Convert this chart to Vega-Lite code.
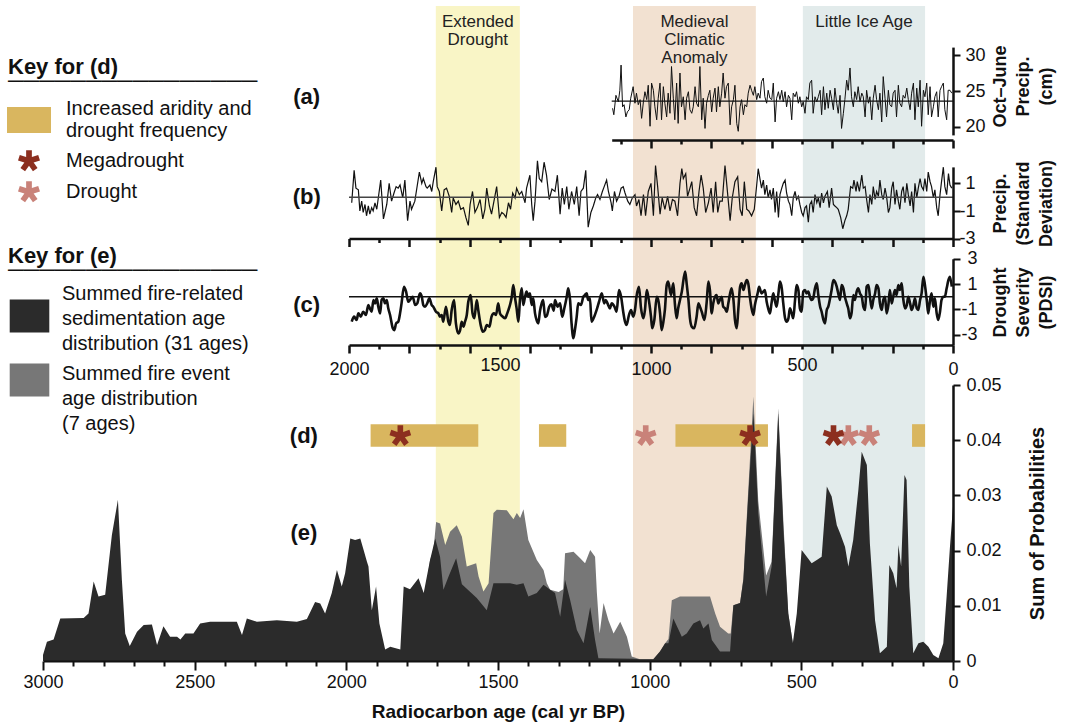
{
"$schema": "https://vega.github.io/schema/vega-lite/v6.json",
"width": 910,
"height": 655,
"autosize": {"type": "none"},
"padding": {"left": 43, "top": 6, "right": 115, "bottom": 63},
"background": "#ffffff",
"config": {
  "font": "Liberation Sans",
  "view": {"stroke": null},
  "axis": {"grid": false, "zindex": 2, "domainColor": "#111111", "tickColor": "#111111", "labelColor": "#111111", "titleColor": "#111111", "labelFlush": false, "labelOverlap": false},
  "legend": {"labelColor": "#111111", "titleColor": "#111111", "padding": 0, "labelLimit": 400, "titleLimit": 400, "symbolStrokeWidth": 0, "symbolOpacity": 1}
},
"datasets": {
  "bands": [
    {"name": "Extended Drought", "label": "Extended\nDrought", "start": 1705, "end": 1428},
    {"name": "Medieval Climatic Anomaly", "label": "Medieval\nClimatic\nAnomaly", "start": 1055, "end": 650},
    {"name": "Little Ice Age", "label": "Little Ice Age", "start": 495, "end": 92}
  ],
  "bars": [
    {"start": 1920, "end": 1565, "type": "Increased aridity and drought frequency"},
    {"start": 1365, "end": 1275, "type": "Increased aridity and drought frequency"},
    {"start": 915, "end": 610, "type": "Increased aridity and drought frequency"},
    {"start": 135, "end": 92, "type": "Increased aridity and drought frequency"}
  ],
  "stars": [
    {"t": 1013, "type": "Drought"},
    {"t": 345, "type": "Drought"},
    {"t": 276, "type": "Drought"},
    {"t": 1822, "type": "Megadrought"},
    {"t": 669, "type": "Megadrought"},
    {"t": 394, "type": "Megadrought"}
  ],
  "gray": [
    {"t":1730,"p":0.016},{"t":1724,"p":0.0183},{"t":1713,"p":0.02},{"t":1704,"p":0.0252},{"t":1691,"p":0.0249},{"t":1674,"p":0.021},{"t":1658,"p":0.0234},{"t":1636,"p":0.0246},{"t":1619,"p":0.0225},{"t":1603,"p":0.0171},{"t":1572,"p":0.0177},{"t":1564,"p":0.0153},{"t":1548,"p":0.0126},{"t":1531,"p":0.0141},{"t":1515,"p":0.0268},{"t":1504,"p":0.0274},{"t":1471,"p":0.0273},{"t":1449,"p":0.0257},{"t":1438,"p":0.0268},{"t":1427,"p":0.0259},{"t":1416,"p":0.0275},{"t":1400,"p":0.0219},{"t":1372,"p":0.0183},{"t":1350,"p":0.0165},{"t":1339,"p":0.0141},{"t":1328,"p":0.0129},{"t":1300,"p":0.0125},{"t":1285,"p":0.013},{"t":1279,"p":0.0195},{"t":1251,"p":0.0198},{"t":1229,"p":0.0186},{"t":1213,"p":0.0177},{"t":1196,"p":0.0201},{"t":1180,"p":0.0189},{"t":1174,"p":0.0123},{"t":1165,"p":0.005},{"t":1152,"p":0.0105},{"t":1136,"p":0.0074},{"t":1119,"p":0.005},{"t":1097,"p":0.0071},{"t":1075,"p":0.0044},{"t":1059,"p":0.0008},{"t":1032,"p":0.0003},{"t":988,"p":0.0003},{"t":966,"p":0.0017},{"t":949,"p":0.0032},{"t":938,"p":0.004},{"t":927,"p":0.011},{"t":900,"p":0.0117},{"t":867,"p":0.0117},{"t":834,"p":0.0117},{"t":801,"p":0.0117},{"t":784,"p":0.0086},{"t":768,"p":0.0062},{"t":741,"p":0.005},{"t":733,"p":0.005},{"t":724,"p":0.0101},{"t":702,"p":0.0105},{"t":691,"p":0.015},{"t":675,"p":0.031},{"t":658,"p":0.0479},{"t":642,"p":0.029},{"t":616,"p":0.0155},{"t":598,"p":0.018},{"t":576,"p":0.0458},{"t":559,"p":0.025},{"t":543,"p":0.0086},{"t":528,"p":0.0032},{"t":520,"p":0}
  ],
  "black": [
    {"t":3000,"p":0.0011},{"t":2987,"p":0.0035},{"t":2965,"p":0.0039},{"t":2943,"p":0.0077},{"t":2866,"p":0.0078},{"t":2850,"p":0.0086},{"t":2833,"p":0.0144},{"t":2817,"p":0.0117},{"t":2795,"p":0.012},{"t":2773,"p":0.0228},{"t":2753,"p":0.0292},{"t":2740,"p":0.0147},{"t":2729,"p":0.005},{"t":2714,"p":0.0027},{"t":2690,"p":0.0053},{"t":2668,"p":0.0065},{"t":2641,"p":0.0066},{"t":2624,"p":0.0029},{"t":2603,"p":0.0063},{"t":2581,"p":0.0044},{"t":2558,"p":0.0044},{"t":2547,"p":0.0039},{"t":2531,"p":0.005},{"t":2504,"p":0.005},{"t":2482,"p":0.0068},{"t":2449,"p":0.0071},{"t":2361,"p":0.0071},{"t":2344,"p":0.0047},{"t":2328,"p":0.0077},{"t":2295,"p":0.0071},{"t":2229,"p":0.0074},{"t":2163,"p":0.0071},{"t":2130,"p":0.0076},{"t":2103,"p":0.0107},{"t":2086,"p":0.0104},{"t":2070,"p":0.0086},{"t":2048,"p":0.0123},{"t":2031,"p":0.0165},{"t":2015,"p":0.0135},{"t":2004,"p":0.0159},{"t":1987,"p":0.0222},{"t":1971,"p":0.0219},{"t":1954,"p":0.0222},{"t":1943,"p":0.0201},{"t":1932,"p":0.018},{"t":1927,"p":0.0171},{"t":1916,"p":0.0092},{"t":1902,"p":0.0135},{"t":1891,"p":0.0068},{"t":1872,"p":0.0021},{"t":1855,"p":0.0026},{"t":1822,"p":0.0021},{"t":1811,"p":0.0135},{"t":1790,"p":0.013},{"t":1762,"p":0.015},{"t":1745,"p":0.0123},{"t":1724,"p":0.0183},{"t":1707,"p":0.0222},{"t":1691,"p":0.0189},{"t":1680,"p":0.0129},{"t":1663,"p":0.0153},{"t":1638,"p":0.0186},{"t":1619,"p":0.0139},{"t":1570,"p":0.0114},{"t":1537,"p":0.0092},{"t":1515,"p":0.0141},{"t":1460,"p":0.0141},{"t":1438,"p":0.0138},{"t":1416,"p":0.0141},{"t":1400,"p":0.0117},{"t":1372,"p":0.0123},{"t":1350,"p":0.0138},{"t":1328,"p":0.0129},{"t":1312,"p":0.0123},{"t":1295,"p":0.008},{"t":1279,"p":0.0147},{"t":1262,"p":0.011},{"t":1240,"p":0.0056},{"t":1218,"p":0.0032},{"t":1196,"p":0.0098},{"t":1180,"p":0.0038},{"t":1169,"p":0.0005},{"t":1054,"p":0.0004},{"t":1032,"p":0.0003},{"t":988,"p":0.0003},{"t":966,"p":0.0017},{"t":949,"p":0.0032},{"t":938,"p":0.0032},{"t":922,"p":0.0077},{"t":894,"p":0.0044},{"t":878,"p":0.005},{"t":856,"p":0.0068},{"t":834,"p":0.0074},{"t":823,"p":0.0059},{"t":806,"p":0.0068},{"t":795,"p":0.0038},{"t":768,"p":0.0017},{"t":735,"p":0.0017},{"t":724,"p":0.0101},{"t":702,"p":0.0105},{"t":691,"p":0.0147},{"t":675,"p":0.0298},{"t":658,"p":0.0449},{"t":642,"p":0.0268},{"t":616,"p":0.0117},{"t":598,"p":0.0171},{"t":576,"p":0.0449},{"t":559,"p":0.0237},{"t":543,"p":0.0086},{"t":528,"p":0.0032},{"t":515,"p":0.0086},{"t":499,"p":0.0201},{"t":482,"p":0.0189},{"t":466,"p":0.0177},{"t":449,"p":0.0183},{"t":433,"p":0.0189},{"t":416,"p":0.0316},{"t":400,"p":0.0298},{"t":383,"p":0.0246},{"t":372,"p":0.0231},{"t":356,"p":0.0207},{"t":345,"p":0.0171},{"t":329,"p":0.0219},{"t":312,"p":0.031},{"t":301,"p":0.0379},{"t":284,"p":0.0355},{"t":274,"p":0.0213},{"t":257,"p":0.0074},{"t":241,"p":0.0014},{"t":218,"p":0.0026},{"t":210,"p":0.0174},{"t":197,"p":0.0159},{"t":186,"p":0.0132},{"t":180,"p":0.021},{"t":171,"p":0.0171},{"t":160,"p":0.0337},{"t":153,"p":0.0328},{"t":144,"p":0.0135},{"t":131,"p":0.0014},{"t":114,"p":0.0032},{"t":98,"p":0.0035},{"t":81,"p":0.0026},{"t":65,"p":0.0011},{"t":48,"p":0.0005},{"t":32,"p":0.0032},{"t":21,"p":0.0117},{"t":10,"p":0.0207},{"t":0,"p":0.028}
  ],
  "a": [
    {"t":1127,"v":22.6},{"t":1123,"v":21.7},{"t":1116,"v":24.4},{"t":1108,"v":23.5},{"t":1103,"v":25.1},{"t":1099,"v":28.6},{"t":1094,"v":22.8},{"t":1089,"v":23.1},{"t":1083,"v":21.4},{"t":1078,"v":22.1},{"t":1072,"v":22.4},{"t":1067,"v":24.0},{"t":1059,"v":25.6},{"t":1053,"v":23.3},{"t":1048,"v":24.7},{"t":1042,"v":23.1},{"t":1036,"v":23.8},{"t":1031,"v":21.2},{"t":1025,"v":23.5},{"t":1020,"v":24.9},{"t":1014,"v":23.8},{"t":1009,"v":25.8},{"t":1003,"v":20.1},{"t":998,"v":26.1},{"t":992,"v":25.1},{"t":987,"v":22.8},{"t":981,"v":21.0},{"t":976,"v":24.0},{"t":970,"v":26.1},{"t":965,"v":21.0},{"t":959,"v":25.6},{"t":954,"v":23.3},{"t":948,"v":21.4},{"t":943,"v":24.7},{"t":937,"v":21.9},{"t":932,"v":28.4},{"t":926,"v":24.0},{"t":921,"v":21.0},{"t":915,"v":26.1},{"t":910,"v":20.5},{"t":904,"v":27.5},{"t":899,"v":22.8},{"t":893,"v":24.2},{"t":887,"v":21.0},{"t":882,"v":24.0},{"t":876,"v":24.9},{"t":871,"v":22.4},{"t":865,"v":21.9},{"t":860,"v":22.8},{"t":854,"v":25.6},{"t":849,"v":23.3},{"t":843,"v":22.8},{"t":838,"v":28.4},{"t":832,"v":21.0},{"t":827,"v":24.0},{"t":821,"v":19.8},{"t":816,"v":23.3},{"t":810,"v":24.4},{"t":805,"v":25.1},{"t":799,"v":22.1},{"t":794,"v":24.0},{"t":788,"v":25.4},{"t":783,"v":22.1},{"t":777,"v":25.6},{"t":772,"v":22.8},{"t":766,"v":24.7},{"t":761,"v":27.5},{"t":755,"v":24.0},{"t":750,"v":25.6},{"t":744,"v":26.1},{"t":738,"v":20.3},{"t":733,"v":22.8},{"t":727,"v":23.8},{"t":722,"v":25.8},{"t":716,"v":20.5},{"t":711,"v":19.4},{"t":705,"v":22.8},{"t":700,"v":23.8},{"t":694,"v":21.7},{"t":689,"v":23.1},{"t":683,"v":22.8},{"t":678,"v":24.7},{"t":672,"v":25.8},{"t":667,"v":25.1},{"t":661,"v":24.4},{"t":656,"v":25.6},{"t":650,"v":23.8},{"t":645,"v":24.7},{"t":639,"v":24.0},{"t":634,"v":26.3},{"t":628,"v":26.8},{"t":623,"v":24.2},{"t":617,"v":23.3},{"t":612,"v":25.1},{"t":606,"v":24.0},{"t":600,"v":23.8},{"t":595,"v":26.1},{"t":589,"v":20.7},{"t":584,"v":24.0},{"t":578,"v":24.9},{"t":573,"v":23.8},{"t":567,"v":25.1},{"t":562,"v":23.5},{"t":556,"v":24.9},{"t":551,"v":22.8},{"t":545,"v":24.4},{"t":540,"v":24.0},{"t":534,"v":21.0},{"t":529,"v":24.7},{"t":523,"v":24.2},{"t":518,"v":24.9},{"t":512,"v":23.3},{"t":507,"v":24.2},{"t":501,"v":22.8},{"t":496,"v":23.5},{"t":490,"v":21.9},{"t":485,"v":24.2},{"t":479,"v":23.8},{"t":474,"v":26.1},{"t":468,"v":26.5},{"t":463,"v":21.9},{"t":457,"v":24.2},{"t":451,"v":23.5},{"t":446,"v":24.2},{"t":440,"v":25.1},{"t":435,"v":21.7},{"t":429,"v":25.6},{"t":424,"v":22.4},{"t":418,"v":24.7},{"t":413,"v":22.6},{"t":407,"v":25.1},{"t":402,"v":24.0},{"t":396,"v":22.4},{"t":391,"v":25.4},{"t":385,"v":23.3},{"t":380,"v":21.9},{"t":374,"v":24.4},{"t":369,"v":19.8},{"t":363,"v":21.9},{"t":358,"v":23.8},{"t":352,"v":26.5},{"t":347,"v":25.1},{"t":341,"v":28.2},{"t":336,"v":24.2},{"t":330,"v":22.8},{"t":325,"v":24.9},{"t":319,"v":23.8},{"t":314,"v":25.6},{"t":308,"v":23.5},{"t":302,"v":24.7},{"t":297,"v":24.2},{"t":291,"v":21.4},{"t":286,"v":25.1},{"t":280,"v":23.3},{"t":275,"v":24.2},{"t":269,"v":21.0},{"t":264,"v":24.0},{"t":258,"v":25.8},{"t":253,"v":23.8},{"t":247,"v":22.4},{"t":242,"v":24.7},{"t":236,"v":20.7},{"t":231,"v":27.0},{"t":225,"v":24.0},{"t":220,"v":21.4},{"t":214,"v":25.1},{"t":209,"v":23.1},{"t":203,"v":22.8},{"t":198,"v":24.7},{"t":192,"v":25.1},{"t":187,"v":21.4},{"t":181,"v":25.8},{"t":176,"v":23.3},{"t":170,"v":22.8},{"t":165,"v":24.4},{"t":159,"v":24.0},{"t":153,"v":25.4},{"t":148,"v":23.8},{"t":142,"v":22.4},{"t":137,"v":24.7},{"t":131,"v":26.1},{"t":126,"v":21.0},{"t":120,"v":25.4},{"t":115,"v":22.8},{"t":109,"v":26.5},{"t":104,"v":20.1},{"t":98,"v":25.1},{"t":93,"v":24.2},{"t":87,"v":26.1},{"t":82,"v":21.7},{"t":76,"v":25.6},{"t":71,"v":21.4},{"t":65,"v":22.8},{"t":60,"v":24.2},{"t":54,"v":24.9},{"t":49,"v":21.4},{"t":43,"v":25.1},{"t":38,"v":25.6},{"t":32,"v":26.1},{"t":27,"v":22.4},{"t":21,"v":21.0},{"t":16,"v":25.1},{"t":10,"v":25.1},{"t":4,"v":24.7}
  ],
  "b": [
    {"t":1991,"v":-0.4},{"t":1983,"v":1.95},{"t":1977,"v":0.66},{"t":1969,"v":0.54},{"t":1964,"v":-0.99},{"t":1958,"v":-0.28},{"t":1953,"v":-1.1},{"t":1947,"v":-0.52},{"t":1942,"v":-1.34},{"t":1936,"v":-0.63},{"t":1931,"v":-1.22},{"t":1925,"v":-0.75},{"t":1920,"v":-0.99},{"t":1914,"v":-0.4},{"t":1908,"v":-0.87},{"t":1903,"v":-0.05},{"t":1895,"v":1.24},{"t":1886,"v":-1.57},{"t":1875,"v":-0.52},{"t":1867,"v":1.01},{"t":1859,"v":-0.28},{"t":1851,"v":0.31},{"t":1844,"v":0.77},{"t":1837,"v":0.66},{"t":1831,"v":0.89},{"t":1822,"v":-0.05},{"t":1815,"v":1.24},{"t":1806,"v":-1.69},{"t":1798,"v":-0.28},{"t":1793,"v":-0.87},{"t":1782,"v":-0.28},{"t":1767,"v":1.83},{"t":1759,"v":1.01},{"t":1754,"v":1.36},{"t":1745,"v":0.77},{"t":1741,"v":0.66},{"t":1732,"v":0.89},{"t":1726,"v":0.42},{"t":1721,"v":1.13},{"t":1712,"v":2.18},{"t":1708,"v":0.77},{"t":1701,"v":0.42},{"t":1693,"v":-0.99},{"t":1685,"v":0.54},{"t":1677,"v":0.66},{"t":1668,"v":0.07},{"t":1660,"v":-1.1},{"t":1655,"v":-0.05},{"t":1646,"v":-0.52},{"t":1638,"v":-0.28},{"t":1630,"v":-0.87},{"t":1621,"v":-0.75},{"t":1613,"v":-1.46},{"t":1605,"v":-2.04},{"t":1599,"v":-0.52},{"t":1591,"v":0.42},{"t":1583,"v":-1.1},{"t":1575,"v":-0.75},{"t":1566,"v":-0.16},{"t":1557,"v":-1.57},{"t":1550,"v":-0.87},{"t":1544,"v":0.66},{"t":1535,"v":-0.63},{"t":1528,"v":-1.22},{"t":1520,"v":-0.28},{"t":1511,"v":0.77},{"t":1502,"v":-1.46},{"t":1494,"v":-1.1},{"t":1487,"v":-1.22},{"t":1480,"v":-1.46},{"t":1472,"v":-0.4},{"t":1465,"v":-0.87},{"t":1458,"v":0.31},{"t":1450,"v":-0.05},{"t":1445,"v":0.66},{"t":1436,"v":0.19},{"t":1428,"v":0.42},{"t":1417,"v":-0.4},{"t":1412,"v":0.66},{"t":1401,"v":1.6},{"t":1395,"v":-0.52},{"t":1390,"v":-1.69},{"t":1384,"v":-0.28},{"t":1376,"v":2.65},{"t":1370,"v":1.36},{"t":1362,"v":1.13},{"t":1354,"v":2.54},{"t":1346,"v":1.6},{"t":1337,"v":-0.16},{"t":1328,"v":0.6},{"t":1318,"v":0.42},{"t":1310,"v":1.6},{"t":1301,"v":-1.22},{"t":1294,"v":0.66},{"t":1287,"v":-0.52},{"t":1279,"v":0.77},{"t":1272,"v":-0.87},{"t":1263,"v":0.42},{"t":1254,"v":-0.52},{"t":1246,"v":0.77},{"t":1238,"v":-1.34},{"t":1232,"v":0.42},{"t":1224,"v":0.66},{"t":1216,"v":1.95},{"t":1208,"v":-2.16},{"t":1199,"v":-1.1},{"t":1191,"v":-0.63},{"t":1183,"v":-0.05},{"t":1177,"v":0.19},{"t":1169,"v":-0.16},{"t":1161,"v":0.42},{"t":1155,"v":0.77},{"t":1147,"v":1.24},{"t":1141,"v":0.42},{"t":1132,"v":-0.4},{"t":1128,"v":-0.99},{"t":1121,"v":0.42},{"t":1114,"v":-0.28},{"t":1106,"v":0.07},{"t":1099,"v":0.66},{"t":1092,"v":0.77},{"t":1086,"v":0.31},{"t":1077,"v":-0.28},{"t":1070,"v":-0.52},{"t":1062,"v":-0.05},{"t":1053,"v":0.19},{"t":1048,"v":-0.63},{"t":1040,"v":-0.16},{"t":1033,"v":-1.34},{"t":1025,"v":0.19},{"t":1018,"v":-1.34},{"t":1009,"v":0.42},{"t":1000,"v":1.01},{"t":992,"v":-1.34},{"t":985,"v":2.3},{"t":978,"v":0.77},{"t":970,"v":-1.22},{"t":963,"v":-0.05},{"t":954,"v":-0.87},{"t":945,"v":0.07},{"t":937,"v":-0.99},{"t":929,"v":-0.16},{"t":921,"v":-0.28},{"t":912,"v":-1.34},{"t":904,"v":1.01},{"t":898,"v":2.07},{"t":893,"v":1.36},{"t":885,"v":1.71},{"t":879,"v":0.07},{"t":871,"v":0.66},{"t":865,"v":1.13},{"t":857,"v":-0.75},{"t":849,"v":-1.34},{"t":841,"v":0.42},{"t":834,"v":1.6},{"t":827,"v":0.66},{"t":819,"v":-1.1},{"t":810,"v":-0.4},{"t":801,"v":0.66},{"t":794,"v":-1.1},{"t":786,"v":1.13},{"t":779,"v":-1.1},{"t":772,"v":-0.28},{"t":764,"v":-0.28},{"t":755,"v":2.3},{"t":746,"v":0.19},{"t":738,"v":-1.69},{"t":731,"v":-0.05},{"t":722,"v":1.13},{"t":713,"v":1.48},{"t":705,"v":-0.87},{"t":698,"v":-1.34},{"t":691,"v":1.13},{"t":683,"v":-0.87},{"t":676,"v":-0.99},{"t":667,"v":-1.34},{"t":658,"v":-0.87},{"t":650,"v":0.89},{"t":645,"v":2.07},{"t":634,"v":0.66},{"t":628,"v":1.24},{"t":623,"v":0.19},{"t":617,"v":0.89},{"t":612,"v":-0.05},{"t":606,"v":0.54},{"t":601,"v":-0.16},{"t":595,"v":0.66},{"t":589,"v":-1.1},{"t":584,"v":0.42},{"t":578,"v":-1.46},{"t":573,"v":0.19},{"t":567,"v":0.66},{"t":562,"v":1.01},{"t":556,"v":1.24},{"t":551,"v":0.31},{"t":545,"v":-0.28},{"t":540,"v":-0.52},{"t":534,"v":-1.34},{"t":529,"v":-0.05},{"t":523,"v":0.42},{"t":518,"v":-0.16},{"t":512,"v":0.07},{"t":507,"v":-0.52},{"t":501,"v":-1.1},{"t":496,"v":-1.34},{"t":490,"v":-0.75},{"t":485,"v":-0.63},{"t":479,"v":-1.81},{"t":474,"v":-0.52},{"t":468,"v":-0.28},{"t":463,"v":-1.1},{"t":457,"v":0.19},{"t":451,"v":-0.4},{"t":446,"v":-0.05},{"t":440,"v":-0.75},{"t":435,"v":0.31},{"t":429,"v":-0.4},{"t":424,"v":0.07},{"t":416,"v":0.42},{"t":410,"v":-0.75},{"t":402,"v":0.66},{"t":396,"v":-0.52},{"t":391,"v":-0.63},{"t":385,"v":-0.75},{"t":380,"v":-0.87},{"t":372,"v":-1.46},{"t":365,"v":-2.28},{"t":358,"v":-1.69},{"t":352,"v":-1.34},{"t":347,"v":-0.87},{"t":339,"v":0.77},{"t":332,"v":0.66},{"t":328,"v":1.24},{"t":321,"v":0.42},{"t":317,"v":1.13},{"t":310,"v":0.42},{"t":302,"v":1.6},{"t":297,"v":0.66},{"t":291,"v":0.77},{"t":286,"v":-0.16},{"t":280,"v":-1.1},{"t":275,"v":0.19},{"t":269,"v":-0.52},{"t":264,"v":0.77},{"t":258,"v":-0.16},{"t":253,"v":0.42},{"t":247,"v":0.07},{"t":242,"v":1.24},{"t":236,"v":0.19},{"t":231,"v":-0.16},{"t":225,"v":0.66},{"t":220,"v":0.07},{"t":214,"v":-1.1},{"t":209,"v":-0.75},{"t":203,"v":0.66},{"t":198,"v":1.13},{"t":192,"v":-0.52},{"t":187,"v":0.54},{"t":181,"v":-0.28},{"t":176,"v":-0.87},{"t":170,"v":0.42},{"t":165,"v":0.77},{"t":159,"v":-0.4},{"t":153,"v":1.01},{"t":148,"v":0.19},{"t":142,"v":-0.63},{"t":137,"v":0.42},{"t":131,"v":-1.1},{"t":126,"v":1.01},{"t":120,"v":-0.05},{"t":115,"v":0.66},{"t":109,"v":1.36},{"t":104,"v":0.77},{"t":98,"v":0.54},{"t":93,"v":1.36},{"t":87,"v":0.42},{"t":82,"v":1.83},{"t":76,"v":1.13},{"t":71,"v":0.77},{"t":65,"v":-0.05},{"t":60,"v":0.54},{"t":54,"v":-0.75},{"t":49,"v":-1.34},{"t":43,"v":0.19},{"t":38,"v":1.13},{"t":32,"v":2.18},{"t":27,"v":0.77},{"t":21,"v":0.19},{"t":15,"v":1.71},{"t":10,"v":0.89},{"t":4,"v":0.66}
  ],
  "c": [
    {"t":1991,"v":-1.98},{"t":1983,"v":-1.58},{"t":1975,"v":-1.84},{"t":1969,"v":-1.32},{"t":1961,"v":-1.58},{"t":1953,"v":-1.19},{"t":1944,"v":-1.45},{"t":1936,"v":-0.66},{"t":1931,"v":-0.92},{"t":1925,"v":-1.19},{"t":1919,"v":-0.26},{"t":1914,"v":-0.53},{"t":1908,"v":-0.13},{"t":1903,"v":-0.79},{"t":1897,"v":-1.32},{"t":1892,"v":-0.26},{"t":1886,"v":-0.13},{"t":1881,"v":-0.53},{"t":1875,"v":-0.26},{"t":1870,"v":-0.92},{"t":1864,"v":-1.45},{"t":1855,"v":-2.5},{"t":1850,"v":-2.64},{"t":1844,"v":-2.11},{"t":1837,"v":-1.98},{"t":1831,"v":-1.32},{"t":1826,"v":-0.53},{"t":1818,"v":0.79},{"t":1811,"v":0.4},{"t":1804,"v":-0.4},{"t":1798,"v":-0.26},{"t":1789,"v":0},{"t":1781,"v":-0.66},{"t":1774,"v":-0.53},{"t":1765,"v":0.26},{"t":1759,"v":0},{"t":1754,"v":-0.66},{"t":1748,"v":-0.79},{"t":1741,"v":-0.53},{"t":1734,"v":-0.13},{"t":1726,"v":-0.66},{"t":1721,"v":-0.79},{"t":1712,"v":-1.19},{"t":1704,"v":-1.32},{"t":1699,"v":-1.58},{"t":1693,"v":-1.45},{"t":1688,"v":-1.98},{"t":1679,"v":-0.79},{"t":1671,"v":-1.98},{"t":1666,"v":-2.24},{"t":1660,"v":-1.05},{"t":1652,"v":-0.26},{"t":1646,"v":-2.11},{"t":1638,"v":-2.9},{"t":1632,"v":-2.64},{"t":1627,"v":-1.98},{"t":1621,"v":-2.37},{"t":1616,"v":-1.98},{"t":1610,"v":-1.45},{"t":1605,"v":-0.4},{"t":1597,"v":0.13},{"t":1591,"v":-1.32},{"t":1585,"v":-1.71},{"t":1577,"v":-0.26},{"t":1572,"v":-1.05},{"t":1564,"v":-2.24},{"t":1557,"v":-2.77},{"t":1550,"v":-2.64},{"t":1544,"v":-2.24},{"t":1535,"v":-2.37},{"t":1528,"v":-1.58},{"t":1520,"v":-1.32},{"t":1513,"v":-1.45},{"t":1506,"v":-0.53},{"t":1500,"v":-1.32},{"t":1491,"v":-1.58},{"t":1483,"v":-1.71},{"t":1478,"v":-1.45},{"t":1472,"v":-1.05},{"t":1467,"v":-0.66},{"t":1461,"v":0},{"t":1456,"v":0.92},{"t":1450,"v":-0.13},{"t":1445,"v":-0.92},{"t":1439,"v":-1.98},{"t":1434,"v":-0.26},{"t":1428,"v":0.66},{"t":1423,"v":-0.66},{"t":1417,"v":0},{"t":1412,"v":0.4},{"t":1406,"v":0},{"t":1401,"v":0.26},{"t":1395,"v":-0.66},{"t":1390,"v":-0.13},{"t":1384,"v":-1.32},{"t":1379,"v":-1.84},{"t":1373,"v":-2.11},{"t":1368,"v":-1.19},{"t":1362,"v":-0.53},{"t":1357,"v":-0.26},{"t":1351,"v":-1.6},{"t":1345,"v":-1.5},{"t":1337,"v":-0.8},{"t":1330,"v":-0.6},{"t":1322,"v":-1.1},{"t":1318,"v":-0.26},{"t":1309,"v":-0.79},{"t":1301,"v":-0.53},{"t":1294,"v":-1.58},{"t":1287,"v":-0.92},{"t":1279,"v":0},{"t":1274,"v":0.66},{"t":1268,"v":-0.26},{"t":1263,"v":-2.11},{"t":1257,"v":-3.29},{"t":1252,"v":-2.64},{"t":1246,"v":-1.58},{"t":1241,"v":-0.53},{"t":1232,"v":-0.66},{"t":1224,"v":0},{"t":1219,"v":0.13},{"t":1213,"v":0.26},{"t":1208,"v":-0.26},{"t":1202,"v":-0.13},{"t":1197,"v":-1.98},{"t":1188,"v":-1.58},{"t":1180,"v":-1.05},{"t":1172,"v":-0.4},{"t":1163,"v":0.26},{"t":1155,"v":-0.53},{"t":1150,"v":-0.26},{"t":1144,"v":-0.53},{"t":1136,"v":-0.92},{"t":1130,"v":-0.53},{"t":1121,"v":-0.79},{"t":1114,"v":-1.19},{"t":1106,"v":0.53},{"t":1099,"v":0},{"t":1092,"v":-1.19},{"t":1086,"v":-1.98},{"t":1081,"v":-2.24},{"t":1073,"v":-1.45},{"t":1066,"v":-1.05},{"t":1059,"v":-1.58},{"t":1053,"v":-1.05},{"t":1048,"v":0},{"t":1040,"v":0.79},{"t":1033,"v":-0.92},{"t":1025,"v":-1.71},{"t":1020,"v":-1.05},{"t":1014,"v":0.53},{"t":1009,"v":0},{"t":1000,"v":-1.58},{"t":996,"v":-2.5},{"t":989,"v":-1.84},{"t":981,"v":0},{"t":976,"v":-0.26},{"t":970,"v":-1.32},{"t":965,"v":-2.64},{"t":959,"v":-1.98},{"t":954,"v":-1.05},{"t":948,"v":0.92},{"t":943,"v":1.19},{"t":934,"v":0.13},{"t":926,"v":1.05},{"t":921,"v":-0.53},{"t":915,"v":-1.71},{"t":910,"v":-0.92},{"t":904,"v":-0.26},{"t":898,"v":0.4},{"t":887,"v":1.98},{"t":882,"v":1.05},{"t":876,"v":-0.26},{"t":871,"v":-1.71},{"t":865,"v":-2.37},{"t":857,"v":-2.5},{"t":849,"v":-1.58},{"t":843,"v":-0.53},{"t":838,"v":-0.79},{"t":832,"v":-1.19},{"t":823,"v":-1.84},{"t":816,"v":-0.53},{"t":810,"v":1.19},{"t":805,"v":0.53},{"t":799,"v":-1.32},{"t":794,"v":-0.53},{"t":788,"v":0},{"t":783,"v":0.13},{"t":777,"v":-0.53},{"t":772,"v":-0.26},{"t":766,"v":0},{"t":761,"v":-0.79},{"t":755,"v":-0.92},{"t":749,"v":-1.19},{"t":744,"v":-0.53},{"t":738,"v":0.26},{"t":733,"v":0.66},{"t":727,"v":-0.26},{"t":722,"v":-1.84},{"t":716,"v":-2.5},{"t":711,"v":-1.05},{"t":705,"v":0.79},{"t":700,"v":1.05},{"t":694,"v":0.53},{"t":689,"v":0.92},{"t":683,"v":1.32},{"t":678,"v":1.05},{"t":672,"v":-0.13},{"t":667,"v":-0.92},{"t":661,"v":-1.45},{"t":656,"v":-0.66},{"t":647,"v":0.26},{"t":642,"v":0.79},{"t":634,"v":0.26},{"t":628,"v":0.4},{"t":623,"v":0.53},{"t":617,"v":-0.4},{"t":612,"v":-0.92},{"t":606,"v":-1.32},{"t":601,"v":-0.53},{"t":595,"v":0.26},{"t":589,"v":-0.4},{"t":584,"v":-0.79},{"t":578,"v":0.26},{"t":573,"v":1.19},{"t":567,"v":0.66},{"t":562,"v":-0.53},{"t":556,"v":-1.71},{"t":551,"v":-1.98},{"t":545,"v":-1.71},{"t":540,"v":-0.92},{"t":534,"v":-1.32},{"t":529,"v":-1.71},{"t":523,"v":-0.26},{"t":518,"v":0.92},{"t":512,"v":0.53},{"t":507,"v":-0.92},{"t":501,"v":-1.19},{"t":496,"v":0.4},{"t":490,"v":0.53},{"t":485,"v":0.26},{"t":479,"v":0.4},{"t":474,"v":0},{"t":468,"v":-0.26},{"t":463,"v":-0.13},{"t":457,"v":0.66},{"t":451,"v":1.05},{"t":446,"v":0.13},{"t":440,"v":-0.79},{"t":435,"v":-1.19},{"t":429,"v":-1.84},{"t":424,"v":-2.11},{"t":418,"v":-1.05},{"t":413,"v":-0.79},{"t":407,"v":-0.13},{"t":402,"v":0.53},{"t":396,"v":1.32},{"t":391,"v":1.19},{"t":385,"v":0.79},{"t":380,"v":0.26},{"t":374,"v":-0.26},{"t":369,"v":0.92},{"t":363,"v":0.66},{"t":358,"v":0},{"t":352,"v":-0.53},{"t":347,"v":-0.92},{"t":341,"v":-1.71},{"t":336,"v":-1.32},{"t":330,"v":0.13},{"t":325,"v":-0.26},{"t":319,"v":0.4},{"t":314,"v":0.66},{"t":308,"v":0.26},{"t":302,"v":0},{"t":297,"v":-0.79},{"t":291,"v":-1.05},{"t":286,"v":0.79},{"t":280,"v":0.92},{"t":275,"v":0},{"t":269,"v":-0.92},{"t":264,"v":-0.26},{"t":258,"v":0.26},{"t":253,"v":0.92},{"t":247,"v":0.66},{"t":242,"v":-0.53},{"t":236,"v":-1.05},{"t":231,"v":-0.26},{"t":225,"v":0},{"t":220,"v":-1.32},{"t":214,"v":-0.66},{"t":209,"v":0.53},{"t":203,"v":-0.53},{"t":198,"v":0},{"t":192,"v":0.53},{"t":187,"v":0.13},{"t":181,"v":0.92},{"t":176,"v":0.53},{"t":170,"v":1.05},{"t":165,"v":-0.13},{"t":159,"v":-0.92},{"t":153,"v":-0.66},{"t":148,"v":0},{"t":142,"v":-0.53},{"t":137,"v":-1.05},{"t":131,"v":-0.66},{"t":126,"v":-0.13},{"t":120,"v":-0.92},{"t":115,"v":-1.05},{"t":109,"v":-0.26},{"t":104,"v":0.26},{"t":98,"v":1.58},{"t":93,"v":0.92},{"t":87,"v":-0.26},{"t":82,"v":-1.32},{"t":76,"v":-0.26},{"t":71,"v":0.26},{"t":65,"v":-0.79},{"t":60,"v":-0.13},{"t":54,"v":-1.32},{"t":49,"v":-1.84},{"t":43,"v":-1.19},{"t":38,"v":-0.26},{"t":32,"v":0},{"t":27,"v":0},{"t":21,"v":0.66},{"t":15,"v":1.32},{"t":10,"v":1.58},{"t":4,"v":0.79}
  ]
},
"layer": [
  {
    "layer": [
      {
        "data": {"name": "bands"},
        "mark": {"type": "rect"},
        "encoding": {
          "x": {"field": "start", "type": "quantitative",
                "scale": {"domain": [3000, 0], "nice": false, "zero": false},
                "axis": {"orient": "bottom", "zindex": 2, "labelOverlap": false, "values": [3000, 2500, 2000, 1500, 1000, 500, 0],
                         "format": "d", "labelFontSize": 18, "labelPadding": 3,
                         "tickSize": 9, "tickWidth": 2, "domainWidth": 2,
                         "title": "Radiocarbon age (cal yr BP)", "titleFontSize": 19, "titleFontWeight": "bold", "titlePadding": 11}},
          "x2": {"field": "end"},
          "color": {"condition": [{"test": "datum.name === 'Extended Drought'", "value": "#f9f5c6"}, {"test": "datum.name === 'Medieval Climatic Anomaly'", "value": "#f2e1d1"}], "value": "#e2ebeb"}
        }
      },
      {
        "data": {"name": "bands"},
        "transform": [{"calculate": "(datum.start + datum.end) / 2", "as": "mid"}],
        "mark": {"type": "text", "baseline": "top", "align": "center", "lineBreak": "\n", "fontSize": 17, "lineHeight": 18, "color": "#222222"},
        "encoding": {
          "x": {"field": "mid", "type": "quantitative"},
          "y": {"datum": 0.1172, "type": "quantitative"},
          "text": {"field": "label"}
        }
      },
      {
        "data": {"name": "bars"},
        "mark": {"type": "rect"},
        "encoding": {
          "x": {"field": "start", "type": "quantitative"},
          "x2": {"field": "end"},
          "y": {"datum": 0.0388, "type": "quantitative"},
          "y2": {"datum": 0.0429},
          "color": {"field": "type", "type": "nominal",
                    "scale": {"domain": ["Increased aridity and drought frequency", "Megadrought", "Drought"], "range": ["#d9b65f", "#8c2f1f", "#c98279"]},
                    "legend": {"title": ["Key for (d)", "────────────────"], "orient": "none", "legendX": -35, "legendY": 51,
                               "titleFontSize": 22, "titleFontWeight": "bold", "titleLineHeight": 14, "titlePadding": 16,
                               "labelFontSize": 20, "symbolSize": 484, "symbolOffset": 10, "labelOffset": 26, "rowPadding": 9,
                               "labelExpr": "datum.label === 'Increased aridity and drought frequency' ? ['Increased aridity and', 'drought frequency'] : datum.label",
                               "encode": {"labels": {"update": {"lineHeight": {"value": 22}, "dy": {"signal": "datum.label === 'Increased aridity and drought frequency' ? -11 : 0"}}}}}}
        }
      },
      {
        "data": {"name": "gray"},
        "mark": {"type": "area", "opacity": 1},
        "encoding": {
          "x": {"field": "t", "type": "quantitative"},
          "y": {"field": "p", "type": "quantitative", "stack": null,
                "scale": {"domain": [0, 0.05], "range": [655, 379], "nice": false, "zero": false},
                "axis": {"orient": "right", "zindex": 2, "labelOverlap": false, "values": [0, 0.01, 0.02, 0.03, 0.04, 0.05], "format": ".2~f",
                         "labelFontSize": 18, "labelPadding": 6, "tickSize": 7, "tickWidth": 2, "domainWidth": 2.5,
                         "title": "Sum of Probabilities", "titleFontSize": 20, "titleFontWeight": "bold", "titleAngle": 270,
                         "titleX": 84, "titleY": 517, "titleAlign": "center", "titleBaseline": "middle"}},
          "fill": {"datum": "Summed fire event age distribution (7 ages)", "type": "nominal",
                   "scale": {"domain": ["Summed fire-related sedimentation age distribution (31 ages)", "Summed fire event age distribution (7 ages)"], "range": ["#2b2b2b", "#777777"]},
                   "legend": {"title": ["Key for (e)", "────────────────"], "orient": "none", "legendX": -35, "legendY": 239.5,
                              "titleFontSize": 22, "titleFontWeight": "bold", "titleLineHeight": 14, "titlePadding": 18,
                              "labelFontSize": 20, "symbolType": "M-1.2,-1H1.2V1H-1.2Z", "symbolSize": 1089, "symbolOffset": 5, "labelOffset": 16, "rowPadding": 9,
                              "labelExpr": "datum.label === 'Summed fire-related sedimentation age distribution (31 ages)' ? ['Summed fire-related', 'sedimentation age', 'distribution (31 ages)'] : ['Summed fire event', 'age distribution', '(7 ages)']",
                              "encode": {"labels": {"update": {"lineHeight": {"value": 25}, "dy": {"signal": "datum.label === 'Summed fire-related sedimentation age distribution (31 ages)' ? -22 : -6"}}}}}}
        }
      },
      {
        "data": {"name": "black"},
        "mark": {"type": "area", "opacity": 1},
        "encoding": {
          "x": {"field": "t", "type": "quantitative"},
          "y": {"field": "p", "type": "quantitative", "stack": null},
          "fill": {"datum": "Summed fire-related sedimentation age distribution (31 ages)", "type": "nominal"}
        }
      },
      {
        "data": {"name": "stars"},
        "mark": {"type": "point", "filled": true, "size": 470, "opacity": 1, "strokeWidth": 0},
        "encoding": {
          "x": {"field": "t", "type": "quantitative"},
          "y": {"datum": 0.0408, "type": "quantitative"},
          "color": {"field": "type", "type": "nominal"},
          "shape": {"field": "type", "type": "nominal",
                    "scale": {"domain": ["Increased aridity and drought frequency", "Megadrought", "Drought"],
                              "range": ["M-2,-1.18H2V1.18H-2Z",
                                        "M-0.26,-0.966L0.26,-0.966L0.26,-0.358L0.838,-0.546L0.999,-0.051L0.42,0.137L0.778,0.628L0.357,0.934L0,0.442L-0.357,0.934L-0.778,0.628L-0.42,0.137L-0.999,-0.051L-0.838,-0.546L-0.26,-0.358Z",
                                        "M-0.26,-0.966L0.26,-0.966L0.26,-0.358L0.838,-0.546L0.999,-0.051L0.42,0.137L0.778,0.628L0.357,0.934L0,0.442L-0.357,0.934L-0.778,0.628L-0.42,0.137L-0.999,-0.051L-0.838,-0.546L-0.26,-0.358Z"]},
                    "legend": {"title": ["Key for (d)", "────────────────"], "orient": "none", "legendX": -35, "legendY": 51,
                               "titleFontSize": 22, "titleFontWeight": "bold", "titleLineHeight": 14, "titlePadding": 16,
                               "labelFontSize": 20, "symbolSize": 484, "symbolOffset": 10, "labelOffset": 26, "rowPadding": 9,
                               "labelExpr": "datum.label === 'Increased aridity and drought frequency' ? ['Increased aridity and', 'drought frequency'] : datum.label",
                               "encode": {"labels": {"update": {"lineHeight": {"value": 22}, "dy": {"signal": "datum.label === 'Increased aridity and drought frequency' ? -11 : 0"}}}}}}
        }
      },
      {
        "data": {"values": [{"label": "(d)"}]},
        "mark": {"type": "text", "fontSize": 22, "fontWeight": "bold", "align": "center", "baseline": "middle", "color": "#111111"},
        "encoding": {"x": {"datum": 2140, "type": "quantitative"}, "y": {"datum": 0.0408, "type": "quantitative"}, "text": {"field": "label"}}
      },
      {
        "data": {"values": [{"label": "(e)"}]},
        "mark": {"type": "text", "fontSize": 22, "fontWeight": "bold", "align": "center", "baseline": "middle", "color": "#111111"},
        "encoding": {"x": {"datum": 2140, "type": "quantitative"}, "y": {"datum": 0.0232, "type": "quantitative"}, "text": {"field": "label"}}
      }
    ]
  },
  {
    "data": {"values": [{"t": 3000}, {"t": 0}]},
    "mark": {"type": "point", "opacity": 0},
    "encoding": {
      "x": {"field": "t", "type": "quantitative",
            "scale": {"domain": [3000, 0], "nice": false, "zero": false},
            "axis": {"orient": "bottom", "zindex": 2, "values": [2900,2800,2700,2600,2400,2300,2200,2100,1900,1800,1700,1600,1400,1300,1200,1100,900,800,700,600,400,300,200,100],
                     "labels": false, "domain": false, "tickSize": 5, "tickWidth": 2, "title": null}}
    }
  },
  {
    "layer": [
      {
        "data": {"name": "a"},
        "mark": {"type": "line", "color": "#111111", "strokeWidth": 1},
        "encoding": {
          "x": {"field": "t", "type": "quantitative",
                "scale": {"domain": [1130, 0], "range": [568.7, 910], "nice": false, "zero": false},
                "axis": {"orient": "bottom", "zindex": 2, "offset": -521, "values": [1100,1000,900,800,700,600,500,400,300,200,100,0], "labels": false,
                         "tickSize": {"condition": {"test": "datum.value % 200 === 0", "value": 8}, "value": 4}, "tickWidth": 2.5, "domainWidth": 2.5, "title": null}},
          "y": {"field": "v", "type": "quantitative",
                "scale": {"domain": [18.9, 31.1], "range": [128.9, 41.1], "nice": false, "zero": false},
                "axis": {"orient": "right", "zindex": 2, "labelOverlap": false, "values": [20, 25, 30], "labelFontSize": 18, "labelPadding": 5, "tickSize": 7, "tickWidth": 2, "domainWidth": 2.5,
                         "title": ["Oct–June", "Precip.", "(cm)"], "titleFontSize": 18, "titleFontWeight": "bold", "titleAngle": 270, "titleLineHeight": 23,
                         "titleX": 47, "titleY": 80, "titleAlign": "center", "titleBaseline": "middle"}}
        }
      },
      {
        "data": {"values": [{"t0": 1130, "t1": 0, "mean": 23.6}]},
        "mark": {"type": "rule", "color": "#111111", "strokeWidth": 1.3},
        "encoding": {"x": {"field": "t0", "type": "quantitative"}, "x2": {"field": "t1"}, "y": {"field": "mean", "type": "quantitative"}}
      },
      {
        "data": {"values": [{"label": "(a)"}]},
        "mark": {"type": "text", "fontSize": 22, "fontWeight": "bold", "align": "center", "baseline": "middle", "color": "#111111"},
        "encoding": {"x": {"datum": 2140, "type": "quantitative"}, "y": {"datum": 24.2, "type": "quantitative"}, "text": {"field": "label"}}
      }
    ]
  },
  {
    "layer": [
      {
        "data": {"name": "b"},
        "mark": {"type": "line", "color": "#111111", "strokeWidth": 1.2},
        "encoding": {
          "x": {"field": "t", "type": "quantitative",
                "scale": {"domain": [2000, 0], "range": [306, 910], "nice": false, "zero": false},
                "axis": {"orient": "bottom", "zindex": 2, "offset": -422.5, "values": [2000,1900,1800,1700,1600,1500,1400,1300,1200,1100,1000,900,800,700,600,500,400,300,200,100,0], "labels": false,
                         "tickSize": {"condition": {"test": "datum.value % 200 === 0", "value": 8}, "value": 4}, "tickWidth": 2.5, "domainWidth": 2.5, "title": null}},
          "y": {"field": "v", "type": "quantitative",
                "scale": {"domain": [-3, 2.2], "range": [232.7, 160.9], "nice": false, "zero": false},
                "axis": {"orient": "right", "zindex": 2, "labelOverlap": false, "values": [1, -1, -3], "labelExpr": "'' + datum.value", "labelAlign": "right", "labelFontSize": 18, "labelPadding": 15, "tickSize": 7, "tickWidth": 2, "domainWidth": 2.5,
                         "title": ["Precip.", "(Standard", "Deviation)"], "titleFontSize": 18, "titleFontWeight": "bold", "titleAngle": 270, "titleLineHeight": 23,
                         "titleX": 47, "titleY": 197, "titleAlign": "center", "titleBaseline": "middle"}}
        }
      },
      {
        "data": {"values": [{"t0": 2000, "t1": 0, "mean": 0}]},
        "mark": {"type": "rule", "color": "#444444", "strokeWidth": 1.6},
        "encoding": {"x": {"field": "t0", "type": "quantitative"}, "x2": {"field": "t1"}, "y": {"field": "mean", "type": "quantitative"}}
      },
      {
        "data": {"values": [{"label": "(b)"}]},
        "mark": {"type": "text", "fontSize": 22, "fontWeight": "bold", "align": "center", "baseline": "middle", "color": "#111111"},
        "encoding": {"x": {"datum": 2140, "type": "quantitative"}, "y": {"datum": 0, "type": "quantitative"}, "text": {"field": "label"}}
      }
    ]
  },
  {
    "layer": [
      {
        "data": {"name": "c"},
        "mark": {"type": "line", "color": "#111111", "strokeWidth": 2.6, "interpolate": "monotone"},
        "encoding": {
          "x": {"field": "t", "type": "quantitative",
                "scale": {"domain": [2000, 0], "range": [306, 910], "nice": false, "zero": false},
                "axis": {"orient": "bottom", "zindex": 2, "labelOverlap": false, "offset": -316, "values": [2000,1900,1800,1700,1600,1500,1400,1300,1200,1100,1000,900,800,700,600,500,400,300,200,100,0],
                         "format": "d", "labelExpr": "datum.value % 500 === 0 ? datum.label : ''", "labelFontSize": 18, "labelPadding": 7,
                         "tickSize": {"condition": {"test": "datum.value % 200 === 0", "value": 8}, "value": 4}, "tickWidth": 2.5, "domainWidth": 2.5, "title": null}},
          "y": {"field": "v", "type": "quantitative",
                "scale": {"domain": [-3.82, 3], "range": [339, 252.75], "nice": false, "zero": false},
                "axis": {"orient": "right", "zindex": 2, "labelOverlap": false, "values": [3, 1, -1, -3], "labelExpr": "'' + datum.value", "labelAlign": "right", "labelFontSize": 18, "labelPadding": 17, "tickSize": 7, "tickWidth": 2, "domainWidth": 2.5,
                         "title": ["Drought", "Severity", "(PDSI)"], "titleFontSize": 18, "titleFontWeight": "bold", "titleAngle": 270, "titleLineHeight": 23,
                         "titleX": 47, "titleY": 296, "titleAlign": "center", "titleBaseline": "middle"}}
        }
      },
      {
        "data": {"values": [{"t0": 2000, "t1": 0, "mean": 0}]},
        "mark": {"type": "rule", "color": "#111111", "strokeWidth": 1.4},
        "encoding": {"x": {"field": "t0", "type": "quantitative"}, "x2": {"field": "t1"}, "y": {"field": "mean", "type": "quantitative"}}
      },
      {
        "data": {"values": [{"label": "(c)"}]},
        "mark": {"type": "text", "fontSize": 22, "fontWeight": "bold", "align": "center", "baseline": "middle", "color": "#111111"},
        "encoding": {"x": {"datum": 2140, "type": "quantitative"}, "y": {"datum": -0.66, "type": "quantitative"}, "text": {"field": "label"}}
      }
    ]
  }
],
"resolve": {"scale": {"x": "independent", "y": "independent"}, "axis": {"x": "independent", "y": "independent"}}
}
